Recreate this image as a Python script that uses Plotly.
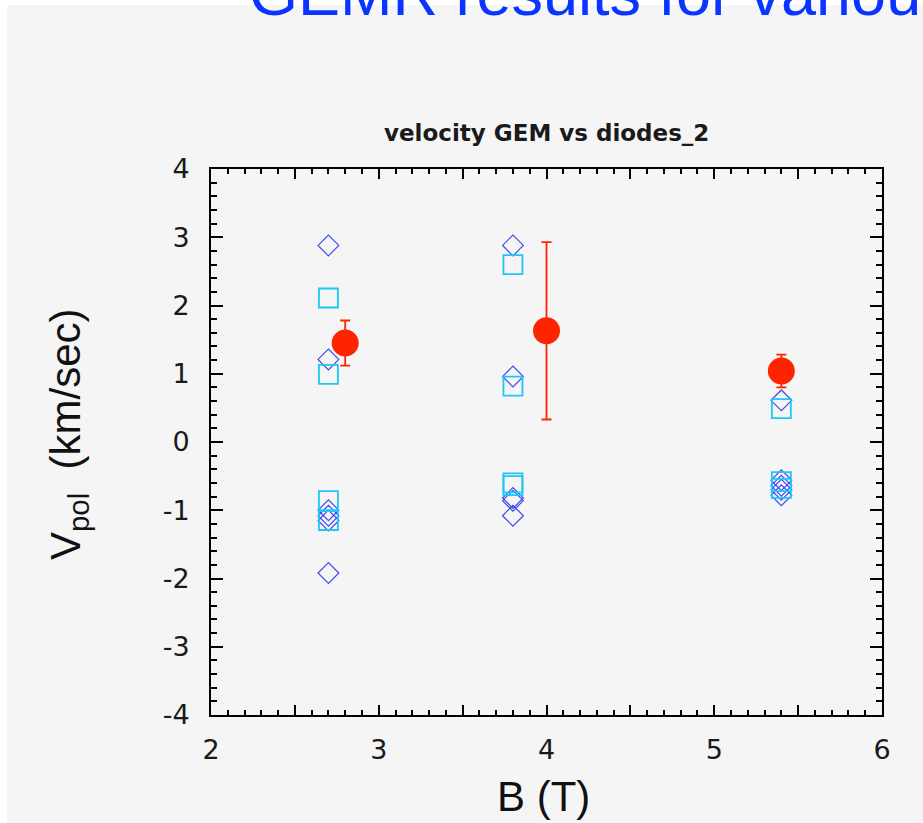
import plotly.graph_objects as go

# ---- data ----
diamond_x = [2.7, 2.7, 2.7, 2.7, 2.7, 2.7,
             3.8, 3.8, 3.8, 3.8, 3.8,
             5.4, 5.4, 5.4, 5.4, 5.4]
diamond_y = [2.88, 1.21, -1.00, -1.08, -1.15, -1.92,
             2.88, 0.96, -0.82, -0.86, -1.08,
             0.61, -0.56, -0.64, -0.70, -0.78]

square_x = [2.7, 2.7, 2.7, 2.7,
            3.8, 3.8, 3.8, 3.8,
            5.4, 5.4, 5.4]
square_y = [2.11, 0.99, -0.86, -1.15,
            2.60, 0.82, -0.60, -0.64,
            0.49, -0.58, -0.68]

mean_x = [2.8, 4.0, 5.4]
mean_y = [1.45, 1.63, 1.04]
mean_err = [0.33, 1.30, 0.24]

x_tickvals = [2, 3, 4, 5, 6]
x_ticktext = ["2", "3", "4", "5", "6"]
x_halfticks = [2.5, 3.5, 4.5, 5.5]
y_tickvals = [-4, -3, -2, -1, 0, 1, 2, 3, 4]
y_ticktext = ["-4", "-3", "-2", "-1", "0", "1", "2", "3", "4"]

# ---- layout geometry ----
W, H = 923, 823
L, R, T, B = 211, 41, 169, 108
PW, PH = W - L - R, H - T - B


def px(xp):
    return (xp - L) / PW


def py(yp):
    return (H - B - yp) / PH


GRAY = "#f5f5f6"
RED = "#ff2400"
BLUE = "#3d4cf0"
CYAN = "#1fc6f6"

fig = go.Figure()

fig.add_trace(go.Scatter(
    x=mean_x, y=mean_y, mode="markers",
    marker=dict(symbol="circle", size=27, color=RED, line=dict(width=0)),
    error_y=dict(type="data", array=mean_err, visible=True,
                 color=RED, thickness=1.8, width=5),
    showlegend=False,
))
fig.add_trace(go.Scatter(
    x=diamond_x, y=diamond_y, mode="markers",
    marker=dict(symbol="diamond-open", size=16, color=BLUE,
                line=dict(width=1.2, color=BLUE)),
    showlegend=False,
))
fig.add_trace(go.Scatter(
    x=square_x, y=square_y, mode="markers",
    marker=dict(symbol="square-open", size=19, color=CYAN,
                line=dict(width=1.8, color=CYAN)),
    showlegend=False,
))
# empty trace so the half-unit tick axis is drawn
fig.add_trace(go.Scatter(x=[], y=[], xaxis="x2", showlegend=False,
                         hoverinfo="skip"))

TICKFONT = dict(family="DejaVu Sans", size=27, color="#1a1a1a")
axis_common = dict(
    showline=True, linecolor="black", linewidth=2,
    mirror="ticks", ticks="inside", tickcolor="black", tickwidth=1.5,
    showgrid=False, zeroline=False,
)

fig.update_layout(
    xaxis=dict(
        range=[2, 6], tickmode="array", tickvals=x_tickvals,
        ticktext=x_ticktext, ticklen=10, ticklabelstandoff=10,
        tickfont=TICKFONT,
        minor=dict(ticks="inside", tickmode="linear", tick0=2, dtick=0.1,
                   ticklen=5, tickcolor="black", tickwidth=1.5,
                   showgrid=False),
        **axis_common,
    ),
    xaxis2=dict(
        range=[2, 6], overlaying="x", anchor="y", side="bottom",
        tickmode="array", tickvals=x_halfticks, showticklabels=False,
        ticklen=10, **axis_common,
    ),
    yaxis=dict(
        range=[-4, 4], tickmode="array", tickvals=y_tickvals,
        ticktext=y_ticktext, ticklen=12, ticklabelstandoff=14,
        tickfont=TICKFONT,
        minor=dict(ticks="inside", tickmode="linear", tick0=-4, dtick=0.2,
                   ticklen=6, tickcolor="black", tickwidth=1.5,
                   showgrid=False),
        **axis_common,
    ),
)

fig.add_shape(type="rect", xref="paper", yref="paper",
              x0=px(7), x1=px(W + 5), y0=py(H + 5), y1=py(5),
              fillcolor=GRAY, line=dict(width=0), layer="below")

annotations = [
    dict(text="GEMR results for various B", x=px(247), y=py(-7),
         xanchor="left", yanchor="middle",
         font=dict(family="Liberation Sans", size=63, color="#0a34ff")),
    dict(text="<b>velocity GEM vs diodes_2</b>", x=px(546.5), y=py(133),
         xanchor="center", yanchor="middle",
         font=dict(family="DejaVu Sans", size=23, color="#1a1a1a")),
    dict(text="B (T)", x=px(543.5), y=py(796),
         xanchor="center", yanchor="middle",
         font=dict(family="Liberation Sans", size=42, color="#111111")),
    dict(text="V<sub>pol</sub>  (km/sec)", x=px(68), y=py(434),
         xanchor="center", yanchor="middle", textangle=-90,
         font=dict(family="Liberation Sans", size=42, color="#111111")),
]
for a in annotations:
    a.update(xref="paper", yref="paper", showarrow=False)
fig.update_layout(annotations=annotations)

fig.update_layout(
    width=W, height=H,
    margin=dict(l=L, r=R, t=T, b=B, pad=0),
    paper_bgcolor="white", plot_bgcolor=GRAY,
    showlegend=False,
)

fig.write_html("out.html")
